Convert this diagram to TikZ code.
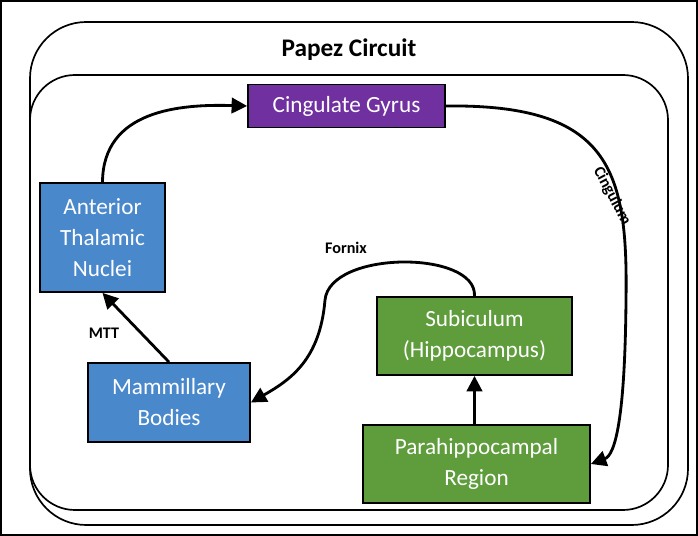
\documentclass[tikz,border=0pt]{standalone}
\usepackage{fontspec}
\setmainfont{Carlito}
\usetikzlibrary{arrows.meta}
\definecolor{gyrus}{HTML}{7030A0}
\definecolor{thal}{HTML}{4A88CC}
\definecolor{hippo}{HTML}{5E9C3C}
\tikzset{
	box/.style = {draw = black, line width = 1.3pt, text = white, align = center,
		font = \fontsize{16.5}{22}\selectfont, inner sep = 0pt},
	link/.style = {line width = 2pt, -{Triangle[length = 11pt, width = 11pt]}},
	tag/.style = {font = \bfseries\fontsize{11.5}{13}\selectfont}
}
\begin{document}
\begin{tikzpicture}[x = 0.025cm, y = -0.025cm]

	% Frame
	
	\useasboundingbox (0, 0) rectangle (698, 536);
	\draw [line width = 1pt] (1, 1) rectangle (697, 535);
	\draw [line width = 1.2pt, rounded corners = 40] (30, 22) rectangle (688, 525);
	\draw [line width = 1.2pt, rounded corners = 32] (30, 75) rectangle (668, 510);
	\node [font = \bfseries\fontsize{18}{21}\selectfont] (title) at (349, 50) {Papez Circuit};
	
	% Boxes
	
	\node [box, fill = gyrus, minimum width = 197*0.025cm, minimum height = 43*0.025cm]
		(cg) at (346.5, 106) {Cingulate Gyrus};
	\node [box, fill = thal, minimum width = 125*0.025cm, minimum height = 109*0.025cm]
		(atn) at (102.5, 237.5) {Anterior\\Thalamic\\Nuclei};
	\node [box, fill = thal, minimum width = 162*0.025cm, minimum height = 79*0.025cm]
		(mb) at (169, 402.5) {Mammillary\\Bodies};
	\node [box, fill = hippo, minimum width = 195*0.025cm, minimum height = 78*0.025cm]
		(sub) at (474.5, 336) {Subiculum\\(Hippocampus)};
	\node [box, fill = hippo, minimum width = 227*0.025cm, minimum height = 78*0.025cm]
		(para) at (476.5, 464) {Parahippocampal\\Region};
	
	% Connectors
	
	\draw [link] (atn.north) .. controls (103, 110) and (180, 104) .. (cg.west);
	\draw [link] (cg.east) .. controls (610, 104) and (628, 170) .. (626, 300)
		.. controls (625, 420) and (615, 455) .. (para.east);
	\draw [link] (para.north -| sub.south) -- (sub.south);
	\draw [link] (sub.north) .. controls (477, 250) and (330, 250) .. (325, 300)
		.. controls (320, 360) and (290, 380) .. (mb.east);
	\draw [link] (mb.north) -- (atn.south);
	
	% Labels
	
	\node [tag, rotate = -62] (cing) at (612, 196) {Cingulum};
	\node [tag] (fornix) at (346, 248) {Fornix};
	\node [tag] (mtt) at (104, 333) {MTT};
	
\end{tikzpicture}
\end{document}
